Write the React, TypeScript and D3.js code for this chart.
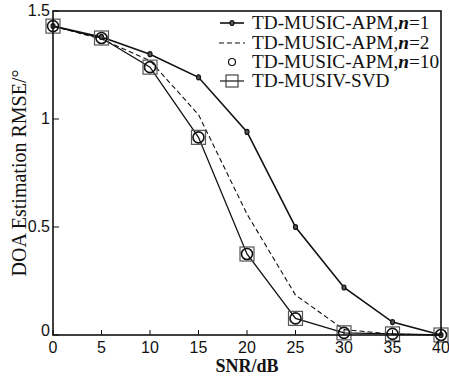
import React from 'react';
import * as d3 from 'd3';

const snr = [0, 5, 10, 15, 20, 25, 30, 35, 40];
const apmN1 = [1.43, 1.38, 1.30, 1.193, 0.94, 0.50, 0.22, 0.06, 0.0];
const apmN2 = [1.43, 1.37, 1.27, 1.02, 0.56, 0.185, 0.025, 0.004, 0.0];
const apmN10 = [1.43, 1.375, 1.24, 0.915, 0.375, 0.077, 0.01, 0.005, 0.0];
const svdRmse = [1.43, 1.375, 1.24, 0.915, 0.375, 0.077, 0.01, 0.005, 0.0];
const xTicks = [0, 5, 10, 15, 20, 25, 30, 35, 40];
const yTicks = [0, 0.5, 1, 1.5];
const legendLabels = ['TD-MUSIC-APM,', 'TD-MUSIC-APM,', 'TD-MUSIC-APM,', 'TD-MUSIV-SVD'];
const legendN = ['1', '2', '10', ''];

const W = 449, H = 376;
const m = { left: 53, right: 8, top: 11, bottom: 41 };

export default function App() {
  const x = d3.scaleLinear().domain([0, 40]).range([m.left, W - m.right]);
  const y = d3.scaleLinear().domain([0, 1.5]).range([H - m.bottom, m.top]);
  const line = d3.line<number>().x((d, i) => x(snr[i])).y(d => y(d));
  const tickFont = '"Liberation Sans", Arial, sans-serif';
  const serif = '"Liberation Serif", "Times New Roman", serif';

  // legend row centres
  const legendY = [23, 43, 62, 81];

  return (
    <div style={{ position: 'fixed', left: 0, top: 0 }}>
      <svg width={W} height={H} style={{ display: 'block', background: '#fff' }}>
        {/* curves */}
        <path d={line(svdRmse) || ''} fill="none" stroke="#111" strokeWidth={1.3} />
        <path d={line(apmN2) || ''} fill="none" stroke="#111" strokeWidth={1.1} strokeDasharray="5,3" />
        <path d={line(apmN1) || ''} fill="none" stroke="#111" strokeWidth={1.6} />
        {svdRmse.map((v, i) => (
          <rect key={'s' + i} x={x(snr[i]) - 7} y={y(v) - 7} width={14} height={14}
            fill="none" stroke="#555" strokeWidth={1.2} />
        ))}
        {apmN10.map((v, i) => (
          <circle key={'c' + i} cx={x(snr[i])} cy={y(v)} r={5.5} fill="none" stroke="#111" strokeWidth={1.6} />
        ))}
        {apmN1.map((v, i) => (
          <ellipse key={'d' + i} cx={x(snr[i])} cy={y(v)} rx={2} ry={2.5} fill="#555" stroke="#111" strokeWidth={1.2} />
        ))}

        {/* frame */}
        <rect x={m.left} y={m.top} width={W - m.left - m.right} height={H - m.top - m.bottom}
          fill="none" stroke="#111" strokeWidth={1.6} />

        {/* ticks */}
        {xTicks.map(t => (
          <g key={'x' + t}>
            <line x1={x(t)} x2={x(t)} y1={y(0)} y2={y(0) - 5} stroke="#111" strokeWidth={1} />
            <text x={x(t)} y={y(0) + 18} textAnchor="middle" fontFamily={tickFont} fontSize={16} fill="#111">{t}</text>
          </g>
        ))}
        {yTicks.map(t => (
          <g key={'y' + t}>
            <line x1={x(0)} x2={x(0) + 6} y1={y(t)} y2={y(t)} stroke="#111" strokeWidth={1} />
            <text x={x(0) - 3} y={y(t) + (t === 0 ? 1 : 5)} textAnchor="end" fontFamily={tickFont} fontSize={16} fill="#111">{t}</text>
          </g>
        ))}

        {/* axis titles */}
        <text x={x(20)} y={H - 4} textAnchor="middle" fontFamily={serif} fontSize={18} fontWeight="bold" fill="#111">SNR/dB</text>
        <text transform={`translate(26,${(y(0) + y(1.5)) / 2}) rotate(-90)`} textAnchor="middle"
          fontFamily={serif} fontSize={20} fill="#111">DOA Estimation RMSE/°</text>

        {/* legend */}
        {legendLabels.map((lab, i) => {
          const ly = legendY[i];
          const cx = 232;
          return (
            <g key={'l' + i}>
              {i === 0 && <>
                <line x1={220} x2={244} y1={ly} y2={ly} stroke="#111" strokeWidth={1.6} />
                <ellipse cx={cx} cy={ly} rx={2} ry={2.5} fill="#555" stroke="#111" strokeWidth={1.2} />
              </>}
              {i === 1 && <line x1={219} x2={245} y1={ly} y2={ly} stroke="#111" strokeWidth={1.1} strokeDasharray="5,3" />}
              {i === 2 && <circle cx={cx} cy={ly} r={3.5} fill="none" stroke="#111" strokeWidth={1.2} />}
              {i === 3 && <>
                <line x1={220} x2={244} y1={ly} y2={ly} stroke="#111" strokeWidth={1.2} />
                <rect x={cx - 6} y={ly - 6} width={12} height={12} fill="none" stroke="#333" strokeWidth={1.1} />
              </>}
              <text x={252} y={ly + 6} fontFamily={serif} fontSize={19.3} fill="#111">
                {lab}
                {legendN[i] && <>
                  <tspan fontStyle="italic" fontWeight="bold">n</tspan>
                  <tspan>={legendN[i]}</tspan>
                </>}
              </text>
            </g>
          );
        })}
      </svg>
    </div>
  );
}
